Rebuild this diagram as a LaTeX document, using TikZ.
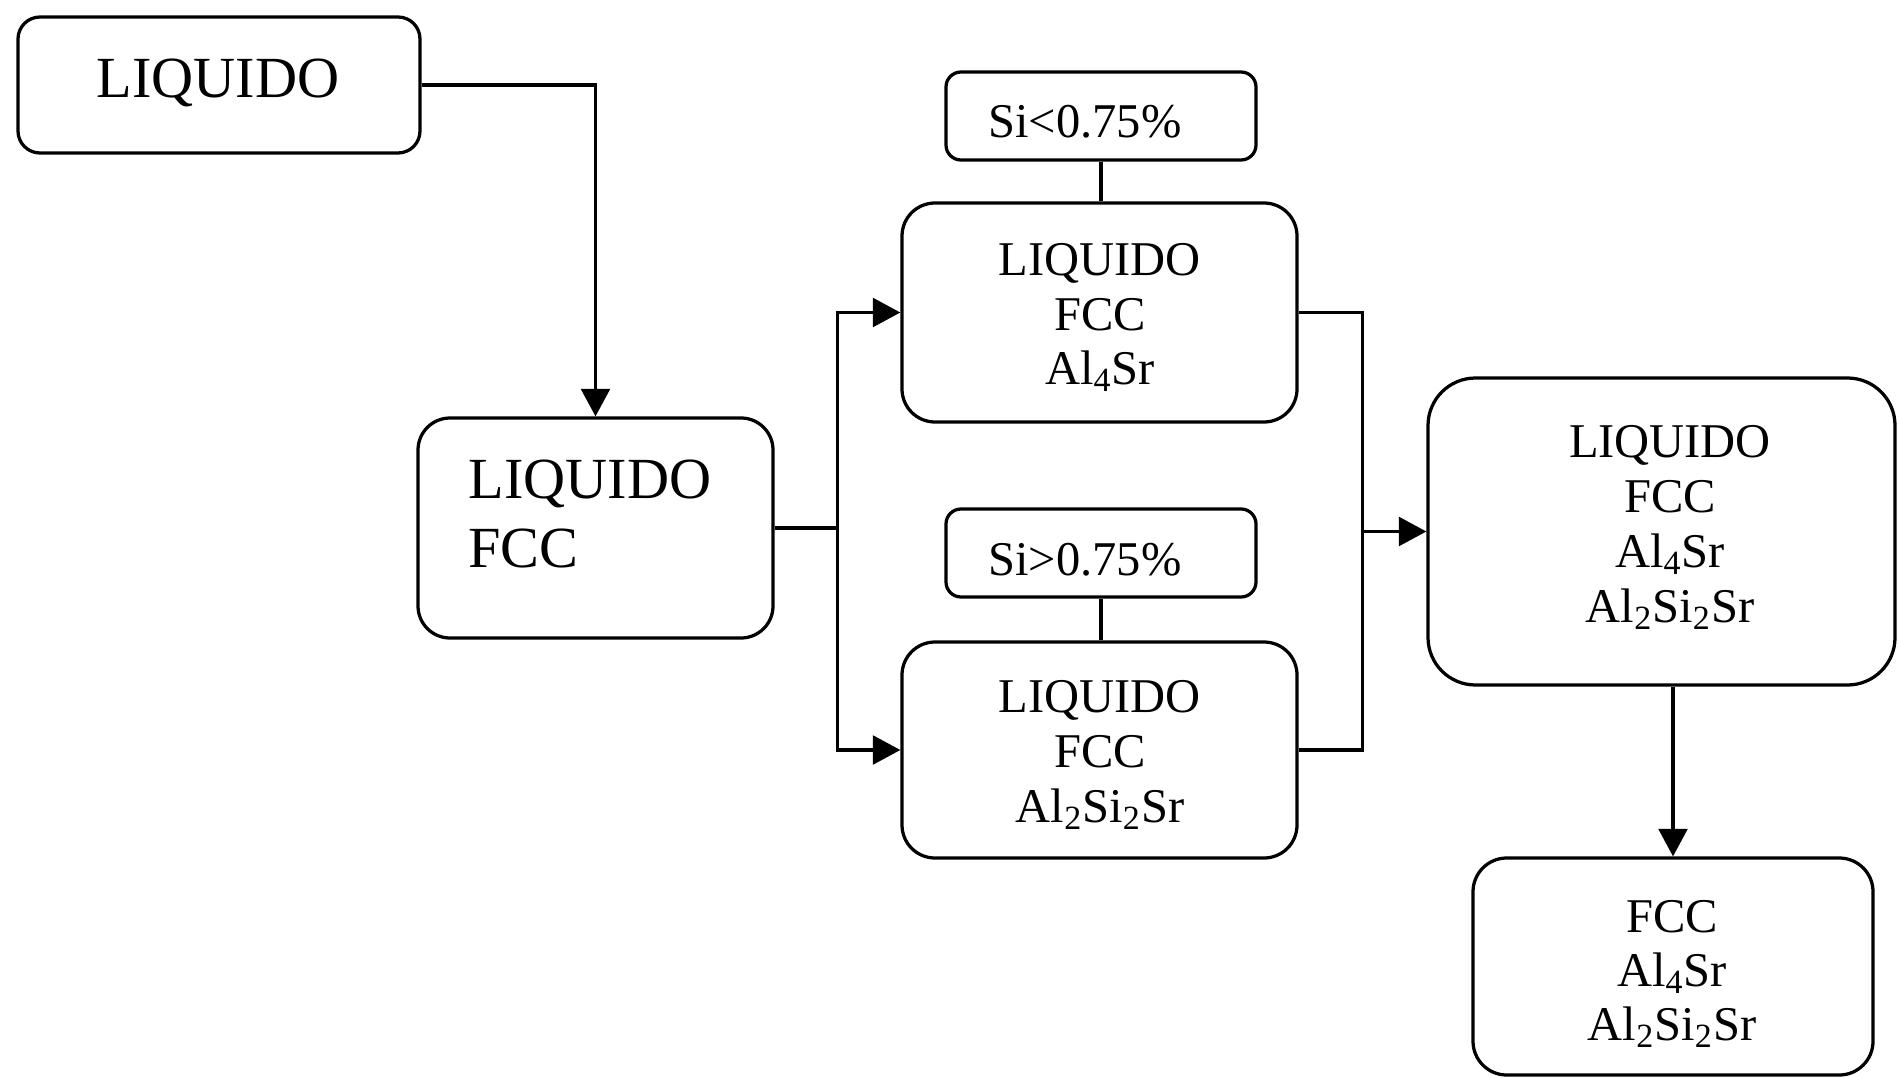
\documentclass[tikz,border=0pt]{standalone}
\usepackage{fontspec}
\setmainfont{Liberation Serif}
\usetikzlibrary{arrows.meta,calc,fit}
\begin{document}
\begin{tikzpicture}[x=0.4pt,y=-0.4pt,
  box/.style={draw, line width=1.3pt, rounded corners=#1, inner sep=0pt},
  box/.default=13pt,
  big/.style={font=\fontsize{23.3}{28}\selectfont, inner sep=0pt, anchor=base},
  small/.style={font=\fontsize{19.4}{23}\selectfont, inner sep=0pt, anchor=base},
  link/.style={line width=1.3pt},
  arr/.style={line width=1.3pt, -{Triangle[length=11pt,width=11.5pt]}}]

\useasboundingbox (0,0) rectangle (1899,1078);

% phase boxes
\node[box=8.8pt,  fit={(18,17) (420,153)}]    (A) {};
\node[box=12.8pt, fit={(418,418) (773,638)}]  (B) {};
\node[box=13.2pt, fit={(902,203) (1297,422)}] (C) {};
\node[box=13.2pt, fit={(902,642) (1297,858)}] (D) {};
\node[box=19pt,   fit={(1428,378) (1895,685)}] (E) {};
\node[box=13.5pt, fit={(1473,858) (1873,1075)}] (F) {};

% composition condition boxes
\node[box=6pt, fit={(946,72) (1256,160)}]  (s1) {};
\node[box=6pt, fit={(946,509) (1256,597)}] (s2) {};

% texts
\node[big] (tA) at (218,98) {LIQUIDO};
\node[big, anchor=base west] (tB1) at (468,498) {LIQUIDO};
\node[big, anchor=base west] (tB2) at (468,567) {FCC};

\node[small, anchor=base west] (ts1) at (988,138) {Si<0.75\%};
\node[small, anchor=base west] (ts2) at (988,575) {Si>0.75\%};

\node[small] (tC1) at (1100,276) {LIQUIDO};
\node[small] (tC2) at (1100,330) {FCC};
\node[small] (tC3) at (1100,384) {Al\textsubscript{4}Sr};

\node[small] (tD1) at (1100,712) {LIQUIDO};
\node[small] (tD2) at (1100,767) {FCC};
\node[small] (tD3) at (1100,822) {Al\textsubscript{2}Si\textsubscript{2}Sr};

\node[small] (tE1) at (1670,457) {LIQUIDO};
\node[small] (tE2) at (1670,512) {FCC};
\node[small] (tE3) at (1670,567) {Al\textsubscript{4}Sr};
\node[small] (tE4) at (1670,622) {Al\textsubscript{2}Si\textsubscript{2}Sr};

\node[small] (tF1) at (1672,932) {FCC};
\node[small] (tF2) at (1672,986) {Al\textsubscript{4}Sr};
\node[small] (tF3) at (1672,1040) {Al\textsubscript{2}Si\textsubscript{2}Sr};

% connectors
\draw[arr] (A.east) -| (B.north);
\coordinate (busL) at ($(B.east)+(63,0)$);
\draw[link] (B.east) -- (busL);
\draw[arr] (busL) |- (C.west);
\draw[arr] (busL) |- (D.west);
\draw[link] (s1.south) -- (s1.south |- C.north);
\draw[link] (s2.south) -- (s2.south |- D.north);
\coordinate (busR) at ($(E.west)+(-64,0)$);
\draw[link] (C.east) -| (busR);
\draw[link] (D.east) -| (busR);
\draw[arr] (busR) -- (E.west);
\draw[arr] (F.north |- E.south) -- (F.north);
\end{tikzpicture}
\end{document}
